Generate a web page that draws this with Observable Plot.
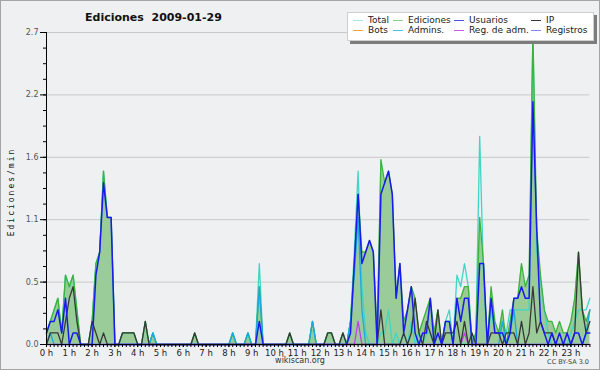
<!DOCTYPE html>
<html><head><meta charset="utf-8">
<script src="https://cdn.jsdelivr.net/npm/d3@7"></script>
<script src="https://cdn.jsdelivr.net/npm/@observablehq/plot@0.6"></script>
<style>
body{margin:0;background:#fff;}
#c{position:relative;width:600px;height:370px;background:#eff0f1;overflow:hidden;font-family:"DejaVu Sans",sans-serif;}
#c svg{position:absolute;left:0;top:0;}
.t{position:absolute;white-space:pre;line-height:1;}
#frame{position:absolute;left:0;top:0;width:600px;height:370px;box-sizing:border-box;border:1px solid #a4a4a4;}
#legend{position:absolute;left:347px;top:12px;width:245px;height:27px;background:#fff;border:1px solid #cfcfcf;box-shadow:3px 3px 0 #7c7c7c;}
.sw{position:absolute;width:10px;height:0;border-top:1px solid;}
.lt{position:absolute;font-size:9px;color:#1a1a1a;white-space:pre;line-height:1;}
</style></head>
<body>
<div id="c"></div>
<script>
// bins: 10-minute intervals over the day (0..143)
const hourTicks = [0,6,12,18,24,30,36,42,48,54,60,66,72,78,84,90,96,102,108,114,120,126,132,138];
const hourLabels = ["0 h","1 h","2 h","3 h","4 h","5 h","6 h","7 h","8 h","9 h","10 h","11 h","12 h","13 h","14 h","15 h","16 h","17 h","18 h","19 h","20 h","21 h","22 h","23 h"];
const yTicks = [0, 0.54, 1.08, 1.62, 2.16, 2.7];
const yTickLabels = ["0.0","0.5","1.1","1.6","2.2","2.7"];

const ediciones = [
0.1,0.2,0.3,0.4,0.1,0.6,0.5,0.6,0.3,0,0,0,
0.2,0.7,0.8,1.5,1.1,1.1,0,0,0.1,0.1,0.1,0.1,
0,0,0.2,0,0.1,0,0,0,0,0,0,0,
0,0,0,0.1,0,0,0,0,0,0,0,0,
0,0.1,0,0,0,0.1,0,0,0.5,0,0,0,
0,0,0,0,0.1,0,0,0,0,0,0.2,0,
0,0,0.1,0.1,0,0,0.1,0,0.2,0.7,1.3,0.8,
0.8,0.9,0.8,0.1,1.6,1.4,1.5,1.3,0.4,0.7,0.2,0.3,
0.5,0.4,0.1,0.2,0.3,0.4,0.1,0.3,0,0.2,0.2,0,
0.4,0.4,0.5,0.5,0,0.1,1.1,0.7,0,0.5,0.2,0.1,
0.3,0,0.2,0.4,0.4,0.7,0.5,0.6,2.7,1.0,0.6,0.3,
0.2,0.2,0.1,0.2,0.1,0.1,0.2,0.4,0.8,0.3,0.2,0.3];

const total = [
0.1,0.2,0.3,0.4,0.1,0.6,0.5,0.6,0.3,0,0,0,
0.2,0.7,0.8,1.5,1.1,1.1,0,0,0.1,0.1,0.1,0.1,
0,0,0.2,0,0.1,0,0,0,0,0,0,0,
0,0,0,0.1,0,0,0,0,0,0,0,0,
0,0.1,0,0,0,0.1,0,0,0.7,0,0,0,
0,0,0,0,0.1,0,0,0,0,0,0.2,0,
0,0,0.1,0.1,0,0,0.1,0,0.2,0.8,1.5,0.5,
0.1,0,0,0,0.1,0.1,0.3,0,0.1,0,0.1,0,
0.2,0,0.1,0,0.1,0.1,0,0.1,0,0.2,0.3,0,
0.6,0.5,0.7,0.5,0,0.1,1.8,0.6,0,0.3,0.1,0.1,
0.2,0.1,0.3,0.3,0.3,0.3,0.3,0.3,2.7,0.8,0.55,0.3,
0.1,0,0,0,0,0,0.1,0.2,0.3,0.3,0.3,0.4];

const usuarios = [
0.1,0.2,0.2,0.3,0.1,0.4,0,0.1,0.1,0,0,0,
0,0.6,0.8,1.4,1.1,1.1,0,0,0,0,0,0,
0,0,0,0,0,0,0,0,0,0,0,0,
0,0,0,0,0,0,0,0,0,0,0,0,
0,0,0,0,0,0,0,0,0.2,0,0,0,
0,0,0,0,0,0,0,0,0,0,0,0,
0,0,0,0,0,0,0,0,0.1,0.7,1.3,0.7,
0.8,0.9,0.8,0,1.3,1.4,1.5,1.3,0.4,0.7,0.1,0.3,
0.5,0.1,0,0.1,0.1,0.4,0,0.1,0,0.2,0.2,0,
0.4,0.2,0.4,0.4,0,0,0.7,0.7,0,0.4,0.1,0.1,
0.1,0,0.1,0.4,0.4,0.5,0.4,0.4,2.1,1.0,0.2,0.1,
0,0.1,0,0.1,0,0.1,0,0.1,0.1,0,0.1,0.1];

const ip = [
0,0.1,0.1,0.1,0,0.2,0.4,0.5,0.2,0,0,0,
0.2,0.1,0,0.1,0,0,0,0,0.1,0.1,0.1,0.1,
0,0,0.2,0,0,0,0,0,0,0,0,0,
0,0,0,0.1,0,0,0,0,0,0,0,0,
0,0,0,0,0,0,0,0,0,0,0,0,
0,0,0,0,0.1,0,0,0,0,0,0,0,
0,0,0.1,0.1,0,0,0.1,0,0,0,0,0,
0,0,0,0,0.3,0,0,0,0,0,0.1,0,
0.1,0.4,0.1,0,0.2,0.1,0,0.3,0,0.1,0.1,0.1,
0.2,0,0.2,0,0.1,0,0,0,0,0.1,0.1,0.1,
0,0.1,0.1,0.1,0,0.2,0,0.1,0.5,0.1,0.2,0.1,
0.1,0.1,0,0,0,0,0,0.1,0.8,0.3,0.1,0.2];

const admins = [
0,0.1,0,0,0,0,0,0,0,0,0,0,
0,0,0,0,0,0,0,0,0,0,0,0,
0,0,0,0,0.1,0,0,0,0,0,0,0,
0,0,0,0,0,0,0,0,0,0,0,0,
0,0.1,0,0,0,0.1,0,0,0.5,0,0,0,
0,0,0,0,0,0,0,0,0,0,0.2,0,
0,0,0,0,0,0,0,0,0.2,0.6,1.1,0.3,
0,0,0,0,0,0,0,0,0,0,0,0,
0,0,0,0,0,0,0,0,0,0,0,0,
0,0,0,0,0,0,0,0,0,0,0,0,
0.2,0,0.1,0.3,0,0,0,0,0,0,0,0,
0,0,0,0,0,0,0,0,0,0,0.1,0.3];

const regAdm = [
0,0,0,0,0,0,0,0,0,0,0,0,
0,0,0,0,0,0,0,0,0,0,0,0,
0,0,0,0,0,0,0,0,0,0,0,0,
0,0,0,0,0,0,0,0,0,0,0,0,
0,0,0,0,0,0,0,0,0,0,0,0,
0,0,0,0,0,0,0,0,0,0,0,0,
0,0,0,0,0,0,0,0,0,0,0.2,0,
0,0,0,0,0,0,0,0,0,0,0,0,
0,0,0,0,0,0,0,0,0,0,0,0,
0,0,0.1,0,0,0,0,0,0,0,0,0,
0,0,0,0,0,0,0,0,0,0,0,0,
0,0,0,0,0,0,0,0,0,0,0,0];

const legendNames = ["Total","Ediciones","Usuarios","IP","Bots","Admins.","Reg. de adm.","Registros"];
const legendColors = ["#a6e6e0","#88d488","#4a4ae6","#333333","#f2a33c","#46c6e6","#d055e6","#8484f0"];

const data = ediciones.map((v, i) => ({i, ed: v, total: total[i], us: usuarios[i], ip: ip[i], adm: admins[i], reg: regAdm[i]}));
const yMinor = d3.range(0, 2.7001, 0.135);
const xMinor = d3.range(0, 144);

const chart = Plot.plot({
  width: 600, height: 370,
  marginLeft: 46, marginRight: 10.6, marginTop: 32, marginBottom: 26,
  style: {background: "transparent", fontFamily: "DejaVu Sans, sans-serif", color: "#000"},
  x: {domain: [0, 143], axis: null},
  y: {domain: [0, 2.7], axis: null},
  marks: [
    Plot.ruleY(yTicks, {stroke: "#c9c9c9"}),
    Plot.areaY(data, {x: "i", y: "ed", fill: "#99cc99"}),
    Plot.lineY(data, {x: "i", y: "total", stroke: "#3fd6c6", strokeWidth: 1.3}),
    Plot.lineY(data, {x: "i", y: "ed", stroke: "#3cb43c", strokeWidth: 1.3}),
    Plot.lineY(data, {x: "i", y: "adm", stroke: "#1aa8e0", strokeWidth: 1.3}),
    Plot.lineY(data, {x: "i", y: "reg", stroke: "#c040f0", strokeWidth: 1.3}),
    Plot.lineY(data, {x: "i", y: "ip", stroke: "#383838", strokeWidth: 1.3}),
    Plot.lineY(data, {x: "i", y: "us", stroke: "#1a1aee", strokeWidth: 1.5}),
    Plot.axisY(yMinor, {tickSize: 3, fill: "none", stroke: "#000", label: null}),
    Plot.axisY(yTicks, {tickSize: 6, tickPadding: 2, fontSize: 8, fill: "#555", stroke: "#000", label: null,
      tickFormat: d => yTickLabels[yTicks.indexOf(d)]}),
    Plot.axisX(xMinor, {tickSize: 3, fill: "none", stroke: "#000", label: null}),
    Plot.axisX(hourTicks, {tickSize: 3, tickPadding: 2, fontSize: 8.5, fill: "#222", stroke: "#000", label: null,
      tickFormat: d => hourLabels[hourTicks.indexOf(d)]}),
    Plot.ruleX([0], {stroke: "#000"}),
    Plot.ruleY([0], {stroke: "#000"})
  ]
});

const c = document.getElementById("c");
c.appendChild(chart);

function addText(txt, css) {
  const d = document.createElement("div");
  d.className = "t";
  d.textContent = txt;
  Object.assign(d.style, css);
  c.appendChild(d);
  return d;
}
addText("Ediciones  2009-01-29", {left: "85px", top: "12px", fontSize: "11px", fontWeight: "bold", color: "#111"});
addText("wikiscan.org", {left: "300px", top: "357px", fontSize: "8px", color: "#333", transform: "translateX(-50%)"});
addText("CC BY-SA 3.0", {right: "11px", top: "359px", fontSize: "6.5px", color: "#444"});
addText("Ediciones/min", {left: "12px", top: "192px", fontSize: "8px", color: "#111", fontFamily: "DejaVu Sans Mono, monospace", letterSpacing: "2px", transform: "translate(-50%,-50%) rotate(-90deg)"});

const lg = document.createElement("div");
lg.id = "legend";
c.appendChild(lg);
const colX = [5, 45, 106, 183];
legendNames.forEach((n, k) => {
  const col = k % 4, row = Math.floor(k / 4);
  const sw = document.createElement("div");
  sw.className = "sw";
  sw.style.left = colX[col] + "px";
  sw.style.top = (7 + row * 10) + "px";
  sw.style.borderTopColor = legendColors[k];
  lg.appendChild(sw);
  const t = document.createElement("div");
  t.className = "lt";
  t.textContent = n;
  t.style.left = (colX[col] + 15) + "px";
  t.style.top = (3 + row * 10) + "px";
  lg.appendChild(t);
});

const fr = document.createElement("div");
fr.id = "frame";
c.appendChild(fr);
</script>
</body></html>
